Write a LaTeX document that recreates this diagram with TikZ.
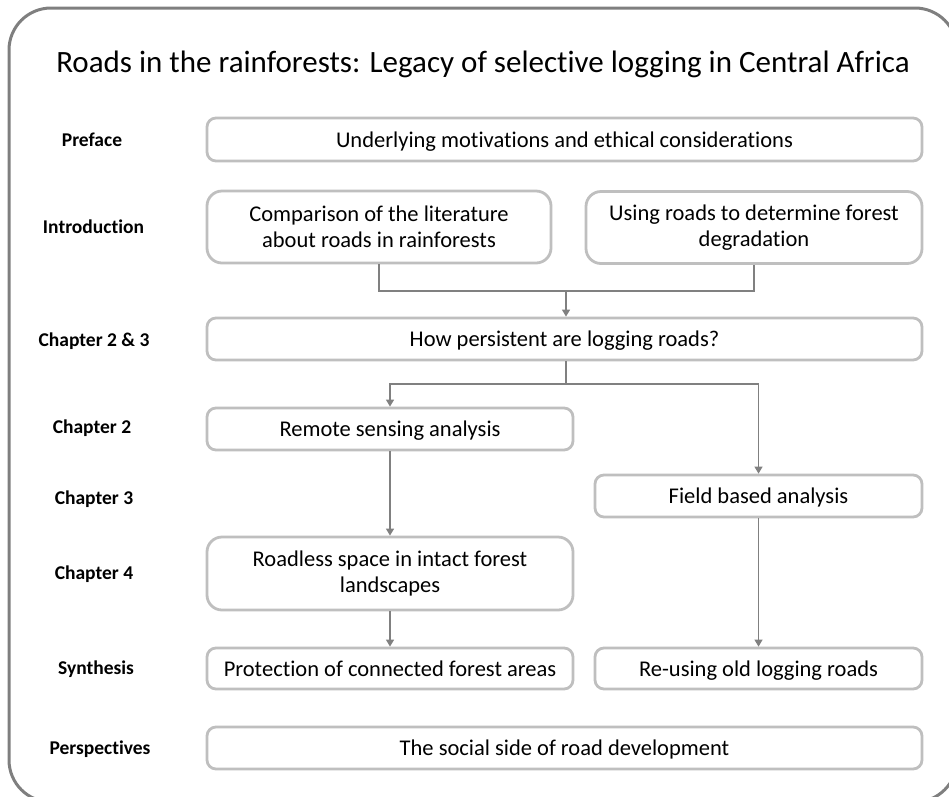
\documentclass[tikz,border=0pt]{standalone}
\usepackage{fontspec}
\setmainfont{Carlito}[Ligatures=NoCommon]
\usetikzlibrary{arrows.meta}
\definecolor{framegray}{HTML}{7F7F7F}
\definecolor{boxgray}{HTML}{BFBFBF}
\definecolor{linegray}{HTML}{808080}
\begin{document}
\begin{tikzpicture}[x=1pt,y=-1pt,
  box/.style={draw=boxgray,line width=2.8pt,rounded corners=9pt,align=center,inner sep=2pt,font=\fontsize{22.5}{26}\selectfont},
  onebox/.style={box,text height=20pt,text depth=5pt},
  tallbox/.style={box,rounded corners=15pt},
  chap/.style={anchor=base,font=\fontsize{19.5}{23}\selectfont\bfseries},
  conn/.style={draw=linegray,line width=1.3pt},
  arr/.style={conn,-{Triangle[width=8pt,length=7pt]}}]
\useasboundingbox (0,0) rectangle (949,796);
\draw[framegray,line width=3pt,rounded corners=42pt] (9,8) rectangle (957,802);
\node[anchor=base,font=\fontsize{31}{36}\selectfont] (title) at (483,72) {Roads in the rainforests: Legacy of selective logging in Central Africa};
% left column
\node[chap] (lpref) at (92,146) {Preface};
\node[chap] (lintro) at (93.5,233) {Introduction};
\node[chap] (lch23) at (94,346) {Chapter 2 \& 3};
\node[chap] (lch2) at (92,433) {Chapter 2};
\node[chap] (lch3) at (94,504) {Chapter 3};
\node[chap] (lch4) at (94,579) {Chapter 4};
\node[chap] (lsyn) at (96,674) {Synthesis};
\node[chap] (lper) at (100,754) {Perspectives};
% boxes
\node[onebox,minimum width=715pt,minimum height=43pt] (pref) at (564.5,139.5) {Underlying motivations and ethical considerations};
\node[tallbox,minimum width=344pt,minimum height=72pt] (intl) at (379,227) {Comparison of the literature\\about roads in rainforests};
\node[tallbox,minimum width=336pt,minimum height=72pt] (intr) at (754,227.5) {Using roads to determine forest\\degradation};
\node[onebox,minimum width=715pt,minimum height=42pt] (ch23) at (564.5,339) {How persistent are logging roads?};
\node[onebox,minimum width=366pt,minimum height=42pt] (rs) at (390,429) {Remote sensing analysis};
\node[onebox,minimum width=327pt,minimum height=42pt] (fb) at (758.5,496) {Field based analysis};
\node[tallbox,minimum width=366pt,minimum height=73pt] (rl) at (390,573.5) {Roadless space in intact forest\\landscapes};
\node[onebox,minimum width=366pt,minimum height=41pt] (prot) at (390,668.5) {Protection of connected forest areas};
\node[onebox,minimum width=327pt,minimum height=41pt] (reuse) at (758.5,668.5) {Re-using old logging roads};
\node[onebox,minimum width=715pt,minimum height=42pt] (persp) at (564.5,748) {The social side of road development};
% connectors
\coordinate (j1) at (566,291);
\draw[conn] (intl.south) |- (j1) -| (intr.south);
\draw[arr] (j1) -- (j1 |- ch23.north);
\coordinate (j2) at (566,384);
\draw[conn] (ch23.south -| j2) -- (j2);
\draw[arr] (j2) -| (rs.north);
\draw[arr] (j2) -| (fb.north);
\draw[arr] (rs.south) -- (rl.north);
\draw[arr] (rl.south) -- (prot.north);
\draw[arr] (fb.south) -- (reuse.north);
\end{tikzpicture}
\end{document}
